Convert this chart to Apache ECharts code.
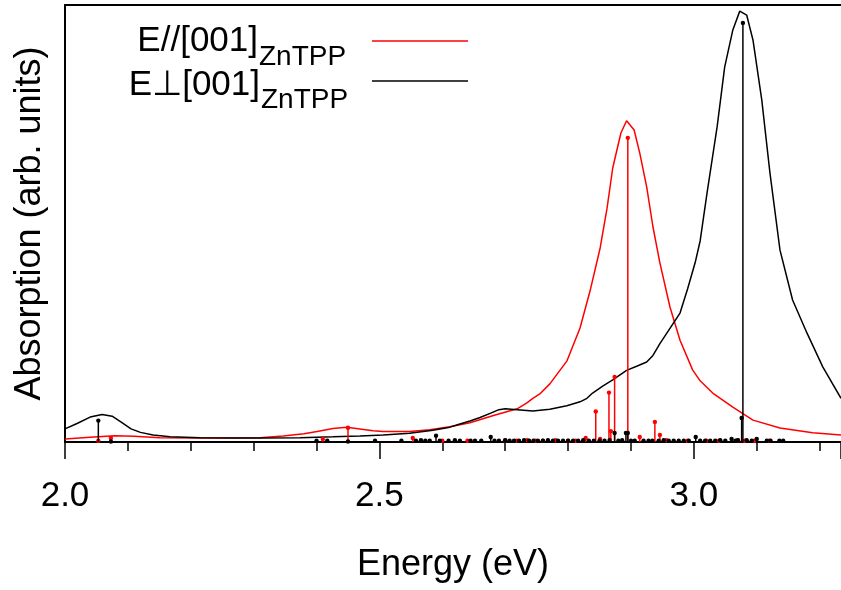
<!DOCTYPE html>
<html>
<head>
<meta charset="utf-8">
<script src="https://cdn.jsdelivr.net/npm/echarts@6/dist/echarts.min.js"></script>
<style>
html,body{margin:0;padding:0;background:#fff;overflow:hidden;}
#chart{width:841px;height:590px;}
</style>
</head>
<body>
<div id="chart"></div>
<script>
// ---- data (energy in eV, absorption in arbitrary units, 0-100) ----
const redCurveE = [2.000,2.040,2.079,2.110,2.151,2.215,2.310,2.347,2.380,2.401,2.426,2.448,2.469,2.490,2.506,2.548,2.580,2.612,2.644,2.680,2.719,2.734,2.744,2.755,2.771,2.798,2.819,2.835,2.851,2.862,2.871,2.884,2.893,2.905,2.914,2.925,2.935,2.946,2.962,2.978,2.998,3.010,3.030,3.062,3.094,3.137,3.189,3.234];
const redCurveA = [0.7,1.1,1.45,1.3,1.0,0.9,0.95,1.4,1.9,2.4,3.1,3.35,3.0,2.6,2.4,2.4,2.8,3.5,4.4,6.0,7.6,8.9,10.0,11.0,13.3,18.5,26.1,34.6,44.4,53.5,62.7,70.7,73.5,71.4,66.1,58.4,49.2,41.0,30.9,23.3,16.5,14.0,11.2,8.0,5.0,3.2,2.1,1.6];

const blackCurveE = [2.000,2.020,2.040,2.059,2.075,2.090,2.105,2.120,2.140,2.167,2.215,2.262,2.310,2.374,2.426,2.469,2.506,2.548,2.585,2.612,2.628,2.644,2.660,2.677,2.690,2.700,2.719,2.744,2.771,2.798,2.819,2.830,2.839,2.855,2.871,2.893,2.910,2.925,2.935,2.946,2.962,2.978,2.990,3.002,3.010,3.021,3.037,3.049,3.062,3.073,3.084,3.094,3.108,3.121,3.137,3.157,3.180,3.205,3.234];
const blackCurveA = [3.0,4.3,5.7,6.3,5.9,4.5,3.0,2.2,1.6,1.2,1.0,0.9,0.9,1.0,1.2,1.4,1.6,2.0,2.7,3.4,4.1,4.8,5.6,6.6,7.4,7.6,7.4,7.1,7.5,8.3,9.2,10.0,11.2,12.8,14.2,16.4,17.4,18.3,19.8,22.5,26.0,29.5,35.0,41.0,46.0,57.0,72.1,85.8,94.3,98.6,97.7,92.0,78.3,61.6,43.9,32.5,24.9,17.2,10.0];

const redStickE = [2.053,2.073,2.410,2.450,2.553,2.600,2.640,2.700,2.718,2.735,2.748,2.760,2.780,2.800,2.812,2.828,2.844,2.851,2.865,2.868,2.874,2.895,2.914,2.938,2.946,2.956,2.990,3.020,3.040,3.070,3.081,3.096,3.120];
const redStickH = [0.3,0.9,0.7,3.27,0.9,0.3,0.3,0.4,0.3,0.4,0.3,0.3,0.4,0.3,0.3,0.9,7.0,0.7,11.3,2.5,14.9,69.6,1.14,4.6,1.6,0.4,0.3,0.3,0.3,0.4,0.3,0.3,0.3];

const blackStickE = [2.053,2.073,2.400,2.417,2.450,2.493,2.535,2.558,2.566,2.573,2.580,2.590,2.596,2.610,2.620,2.628,2.645,2.652,2.662,2.677,2.683,2.690,2.700,2.707,2.714,2.722,2.730,2.738,2.745,2.752,2.760,2.768,2.776,2.784,2.792,2.800,2.808,2.816,2.824,2.833,2.841,2.850,2.858,2.866,2.874,2.880,2.886,2.892,2.895,2.900,2.906,2.920,2.928,2.934,2.944,2.952,2.960,2.968,2.976,2.984,2.992,3.003,3.010,3.018,3.026,3.034,3.042,3.050,3.060,3.066,3.070,3.076,3.078,3.084,3.092,3.100,3.116,3.122,3.136,3.142];
const blackStickH = [4.9,0.1,0.3,0.3,0.1,0.3,0.3,0.3,0.4,0.3,0.3,1.45,0.3,0.3,0.4,0.3,0.3,0.3,0.3,1.14,0.3,0.3,0.4,0.3,0.3,0.3,0.4,0.3,0.3,0.3,0.3,0.4,0.3,0.3,0.3,0.3,0.3,0.3,0.4,0.3,0.3,0.3,0.3,0.4,2.06,0.3,0.4,2.06,2.06,0.3,0.3,0.3,0.3,0.3,0.3,0.4,0.3,0.3,0.3,0.3,0.3,1.14,0.3,0.3,0.3,0.3,0.4,0.3,0.7,0.3,0.4,5.5,95.9,0.4,0.3,0.7,0.3,0.3,0.3,0.3];

const xTickLabels = ['2.0','2.5','3.0'];
const xMin = 2.0, xMax = 3.234;
// -------------------------------------------------------------------

const FONT = "'Liberation Sans', Arial, sans-serif";
const zip = (a, b) => a.map((v, i) => [v, b[i]]);

function stickRender(color) {
  return function (params, api) {
    const base = api.coord([api.value(0), 0]);
    const top = api.coord([api.value(0), api.value(1)]);
    return {
      type: 'group',
      children: [
        {type: 'line', shape: {x1: base[0], y1: base[1], x2: top[0], y2: top[1]},
         style: {stroke: color, lineWidth: 1.5}},
        {type: 'circle', shape: {cx: top[0], cy: top[1], r: 2.2},
         style: {fill: color, stroke: null}}
      ]
    };
  };
}

const chart = echarts.init(document.getElementById('chart'), null, {renderer: 'canvas'});
chart.setOption({
  animation: false,
  backgroundColor: '#fff',
  grid: {left: 65, top: 5, right: 0, bottom: 148, show: false, containLabel: false, outerBoundsMode: 'none'},
  xAxis: [
    {
      type: 'value', min: xMin, max: xMax, interval: 0.1,
      axisLine: {show: true, lineStyle: {color: '#000', width: 2}},
      axisTick: {show: true, length: 9, lineStyle: {color: '#000', width: 1.5}},
      axisLabel: {show: false},
      splitLine: {show: false},
      name: 'Energy (eV)', nameLocation: 'middle', nameGap: 105,
      nameTextStyle: {fontSize: 36, fontFamily: FONT, color: '#000'}
    },
    {
      type: 'value', min: xMin, max: xMax, interval: 0.5, position: 'bottom',
      axisLine: {show: false},
      axisTick: {show: true, length: 17, lineStyle: {color: '#000', width: 1.5}},
      axisLabel: {
        show: true, margin: 37, fontSize: 35, fontFamily: FONT, color: '#000',
        formatter: function (v) {
          const s = (Math.round(v * 10) / 10).toFixed(1);
          return (Math.abs(v * 2 - Math.round(v * 2)) < 1e-6 && xTickLabels.indexOf(s) >= 0) ? s : '';
        }
      },
      splitLine: {show: false}
    },
    {
      type: 'value', min: xMin, max: xMax, position: 'top',
      axisLine: {show: true, lineStyle: {color: '#000', width: 2}},
      axisTick: {show: false}, axisLabel: {show: false}, splitLine: {show: false}
    }
  ],
  yAxis: {
    type: 'value', min: 0, max: 100,
    axisLine: {show: true, lineStyle: {color: '#000', width: 2}},
    axisTick: {show: false}, axisLabel: {show: false}, splitLine: {show: false},
    name: 'Absorption (arb. units)', nameLocation: 'middle', nameGap: 17, nameRotate: 90,
    nameTextStyle: {fontSize: 36, fontFamily: FONT, color: '#000'}
  },
  series: [
    {type: 'line', data: zip(redCurveE, redCurveA), xAxisIndex: 0, showSymbol: false, symbol: 'none',
     lineStyle: {color: '#ff0000', width: 1.5}, z: 2},
    {type: 'line', data: zip(blackCurveE, blackCurveA), xAxisIndex: 0, showSymbol: false, symbol: 'none',
     lineStyle: {color: '#000000', width: 1.5}, z: 3},
    {type: 'custom', data: zip(redStickE, redStickH), xAxisIndex: 0, renderItem: stickRender('#ff0000'), z: 4},
    {type: 'custom', data: zip(blackStickE, blackStickH), xAxisIndex: 0, renderItem: stickRender('#000000'), z: 5}
  ],
  graphic: [
    {type: 'text', x: 258, y: 41.5, style: {text: 'E//[001]', font: '35px ' + FONT, fill: '#000', textAlign: 'right', textVerticalAlign: 'middle'}},
    {type: 'text', x: 259, y: 57, style: {text: 'ZnTPP', font: '28px ' + FONT, fill: '#000', textAlign: 'left', textVerticalAlign: 'middle'}},
    {type: 'text', x: 260, y: 85, style: {text: 'E\u22A5[001]', font: '35px ' + FONT, fill: '#000', textAlign: 'right', textVerticalAlign: 'middle'}},
    {type: 'text', x: 261, y: 100.5, style: {text: 'ZnTPP', font: '28px ' + FONT, fill: '#000', textAlign: 'left', textVerticalAlign: 'middle'}},
    {type: 'line', shape: {x1: 372, y1: 41, x2: 468, y2: 41}, style: {stroke: '#ff0000', lineWidth: 1.5}},
    {type: 'line', shape: {x1: 372, y1: 81, x2: 468, y2: 81}, style: {stroke: '#000000', lineWidth: 1.5}}
  ]
});
</script>
</body>
</html>
